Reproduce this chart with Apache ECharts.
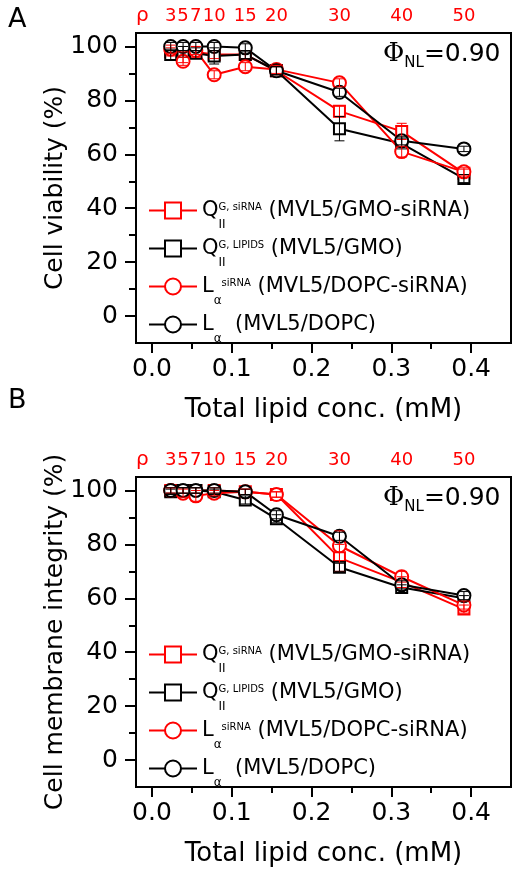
<!DOCTYPE html>
<html><head><meta charset="utf-8">
<script src="https://cdn.jsdelivr.net/npm/echarts@6/dist/echarts.min.js"></script>
<style>html,body{margin:0;padding:0;background:#fff}#c{width:518px;height:877px}</style>
</head><body><div id="c"></div>
<script>
// ---- data ----
const rho = [3, 5, 7, 10, 15, 20, 30, 40, 50];
const conc = [0.0235, 0.039, 0.055, 0.078, 0.117, 0.156, 0.235, 0.313, 0.391];
const xTicks = [0, 0.1, 0.2, 0.3, 0.4];
const xMinorTicks = [0.05, 0.15, 0.25, 0.35];
const yTicks = [0, 20, 40, 60, 80, 100];
const yMinorTicks = [10, 30, 50, 70, 90];

// Panel A: cell viability (%)
const viabGmoSi     = [98, 96, 98, 97, 97, 91, 76, 68.5, 53];
const viabGmoSiErr  = [1.5, 2, 2, 1.5, 1.5, 1.5, 2, 3, 1.5];
const viabGmo       = [97, 98, 97.5, 96.5, 97, 91, 69.5, 64, 51];
const viabGmoErr    = [2, 2, 2, 3, 1.5, 1.5, 4.5, 2, 1.5];
const viabDopcSi    = [99, 94.5, 98.5, 89.5, 92.5, 91.5, 86.5, 61, 53.5];
const viabDopcSiErr = [1.5, 1.5, 1.5, 1.5, 1.5, 1.5, 1.5, 2, 1.5];
const viabDopc      = [100, 100, 100, 100, 99.5, 91, 83, 65, 62];
const viabDopcErr   = [1.5, 1.5, 1.5, 1.5, 1.5, 1.5, 1.5, 1.5, 1];

// Panel B: cell membrane integrity (%)
const memGmoSi     = [100, 100, 100, 100, 99.5, 98.5, 75, 66, 56];
const memGmoSiErr  = [1, 1, 1, 1, 1, 1, 5, 2, 1.5];
const memGmo       = [99.5, 100, 100, 99.5, 96.5, 89.5, 71.5, 64, 60];
const memGmoErr    = [1, 1, 1, 1, 1.5, 1.5, 1.5, 1, 1];
const memDopcSi    = [100, 99, 98, 99, 99.5, 98.5, 79.5, 68, 57.5];
const memDopcSiErr = [1, 1.5, 2, 1, 1, 1, 5.5, 2, 1.5];
const memDopc      = [100, 100, 100, 100, 99.5, 91, 83, 65, 61];
const memDopcErr   = [1, 1, 1, 1, 1, 1.5, 1.5, 1.5, 1.5];

const seriesNames = ['gmoSi', 'gmo', 'dopcSi', 'dopc'];
const legendText = {
  gmoSi: '{big|Q}{subz|II}{sup|G, siRNA} {t|(MVL5/GMO-siRNA)}',
  gmo: '{big|Q}{subz|II}{sup|G, LIPIDS} {t|(MVL5/GMO)}',
  dopcSi: '{big|L}{sub|α}{sup|siRNA} {t|(MVL5/DOPC-siRNA)}',
  dopc: '{big|L}{sub|α}  {t|(MVL5/DOPC)}'
};

// ---- styling ----
const RED = '#ff0000', BLK = '#000000';
const FONT = 'DejaVu Sans';
const styles = {
  gmoSi: { color: RED, symbol: 'emptyRect', size: 11 },
  gmo: { color: BLK, symbol: 'emptyRect', size: 11 },
  dopcSi: { color: RED, symbol: 'emptyCircle', size: 13 },
  dopc: { color: BLK, symbol: 'emptyCircle', size: 13 }
};
const X_MIN = -0.02, X_MAX = 0.45, Y_MIN = -10, Y_MAX = 105;

const richLegend = {
  t: { fontSize: 21, fontFamily: FONT, color: '#000' },
  big: { fontSize: 21, fontFamily: FONT, color: '#000' },
  sub: { fontSize: 12, fontFamily: FONT, color: '#000', padding: [28, 0, 0, 0] },
  subz: { fontSize: 12, fontFamily: FONT, color: '#000', padding: [28, 0, 0, 0], width: 0.01 },
  sup: { fontSize: 10, fontFamily: FONT, color: '#000', padding: [0, 0, 7, 0] }
};

function errRender(color) {
  return function (params, api) {
    const x = api.value(0), y = api.value(1), e = api.value(2);
    const t = api.coord([x, y + e]);
    const b = api.coord([x, y - e]);
    const hw = 5;
    const st = { stroke: color, lineWidth: 1 };
    return {
      type: 'group',
      children: [
        { type: 'line', shape: { x1: t[0], y1: t[1], x2: b[0], y2: b[1] }, style: st },
        { type: 'line', shape: { x1: t[0] - hw, y1: t[1], x2: t[0] + hw, y2: t[1] }, style: st },
        { type: 'line', shape: { x1: b[0] - hw, y1: b[1], x2: b[0] + hw, y2: b[1] }, style: st }
      ]
    };
  };
}

function nearestRho(v) {
  let best = 0, d = 1e9;
  conc.forEach((c, i) => { if (Math.abs(c - v) < d) { d = Math.abs(c - v); best = i; } });
  return String(rho[best]);
}

const panels = [
  { top: 33, yName: 'Cell viability (%)',
    vals: { gmoSi: viabGmoSi, gmo: viabGmo, dopcSi: viabDopcSi, dopc: viabDopc },
    errs: { gmoSi: viabGmoSiErr, gmo: viabGmoErr, dopcSi: viabDopcSiErr, dopc: viabDopcErr } },
  { top: 477, yName: 'Cell membrane integrity (%)',
    vals: { gmoSi: memGmoSi, gmo: memGmo, dopcSi: memDopcSi, dopc: memDopc },
    errs: { gmoSi: memGmoSiErr, gmo: memGmoErr, dopcSi: memDopcSiErr, dopc: memDopcErr } }
];

const noLine = { show: false, onZero: false };
const grid = [], xAxis = [], yAxis = [], series = [], legend = [];
panels.forEach((p, gi) => {
  grid.push({ left: 136, top: p.top, right: 7, height: 310, show: true,
    borderColor: '#000', borderWidth: 2, backgroundColor: 'transparent' });
  // bottom major
  xAxis.push({ type: 'value', gridIndex: gi, position: 'bottom', min: X_MIN, max: X_MAX,
    axisLine: noLine, splitLine: { show: false },
    axisTick: { show: true, customValues: xTicks, length: 10, lineStyle: { color: '#000', width: 2 } },
    axisLabel: { customValues: xTicks, formatter: v => v.toFixed(1), fontSize: 25, fontFamily: FONT, color: '#000', margin: 14 },
    name: 'Total lipid conc. (mM)', nameLocation: 'middle', nameGap: 54, nameMoveOverlap: false,
    nameTextStyle: { fontSize: 26, fontFamily: FONT, color: '#000' } });
  // bottom minor ticks
  xAxis.push({ type: 'value', gridIndex: gi, position: 'bottom', min: X_MIN, max: X_MAX,
    axisLine: noLine, splitLine: { show: false },
    axisTick: { show: true, customValues: xMinorTicks, length: 6, lineStyle: { color: '#000', width: 2 } },
    axisLabel: { show: false } });
  // top rho labels
  xAxis.push({ type: 'value', gridIndex: gi, position: 'top', min: X_MIN, max: X_MAX,
    axisLine: noLine, splitLine: { show: false }, axisTick: { show: false },
    axisLabel: { customValues: conc, formatter: v => nearestRho(v), fontSize: 18, fontFamily: FONT, color: RED, margin: 8 } });
  // y major
  yAxis.push({ type: 'value', gridIndex: gi, position: 'left', min: Y_MIN, max: Y_MAX,
    axisLine: noLine, splitLine: { show: false },
    axisTick: { show: true, customValues: yTicks, length: 11, lineStyle: { color: '#000', width: 2 } },
    axisLabel: { customValues: yTicks, fontSize: 25, fontFamily: FONT, color: '#000', margin: 18 },
    name: p.yName, nameLocation: 'middle', nameGap: 68, nameMoveOverlap: false,
    nameTextStyle: { fontSize: 25, fontFamily: FONT, color: '#000' } });
  // y minor
  yAxis.push({ type: 'value', gridIndex: gi, position: 'left', min: Y_MIN, max: Y_MAX,
    axisLine: noLine, splitLine: { show: false },
    axisTick: { show: true, customValues: yMinorTicks, length: 7, lineStyle: { color: '#000', width: 2 } },
    axisLabel: { show: false } });

  seriesNames.forEach(n => {
    const s = styles[n];
    series.push({ type: 'line', name: n, xAxisIndex: gi * 3, yAxisIndex: gi * 2,
      data: conc.map((c, i) => [c, p.vals[n][i]]),
      symbol: s.symbol, symbolSize: s.size, showSymbol: true,
      lineStyle: { color: s.color, width: 2 },
      itemStyle: { color: s.color, borderColor: s.color, borderWidth: 1.2 },
      z: 3, animation: false });
  });
  seriesNames.forEach(n => {
    const s = styles[n];
    series.push({ type: 'custom', name: n + '_err', xAxisIndex: gi * 3, yAxisIndex: gi * 2,
      data: conc.map((c, i) => [c, p.vals[n][i], p.errs[n][i]]),
      renderItem: errRender(s.color), z: 4, animation: false, silent: true });
  });

  legend.push({ orient: 'vertical', left: 143, top: p.top + 162, itemWidth: 48, itemHeight: 20,
    itemGap: 7.5, data: seriesNames, selectedMode: false,
    formatter: name => legendText[name],
    textStyle: { rich: richLegend, fontSize: 21, fontFamily: FONT, color: '#000' } });
});

const phiRich = {
  phi: { fontSize: 26, fontFamily: 'DejaVu Serif', color: '#000' },
  nl: { fontSize: 15, fontFamily: FONT, color: '#000', padding: [18, 0, 0, 0] },
  eq: { fontSize: 25, fontFamily: FONT, color: '#000' }
};
const graphic = [
  { type: 'text', left: 8, top: 6, style: { text: 'A', fontSize: 27, fontFamily: FONT, fill: '#000' } },
  { type: 'text', left: 8, top: 387, style: { text: 'B', fontSize: 27, fontFamily: FONT, fill: '#000' } },
  { type: 'text', left: 136, top: 6, style: { text: 'ρ', fontSize: 20, fontFamily: FONT, fill: RED } },
  { type: 'text', left: 136, top: 450, style: { text: 'ρ', fontSize: 20, fontFamily: FONT, fill: RED } },
  { type: 'text', left: 383, top: 41, style: { text: '{phi|Φ}{nl|NL}{eq|=0.90}', rich: phiRich } },
  { type: 'text', left: 383, top: 485, style: { text: '{phi|Φ}{nl|NL}{eq|=0.90}', rich: phiRich } }
];

const chart = echarts.init(document.getElementById('c'), null, { renderer: 'canvas' });
chart.setOption({
  animation: false,
  backgroundColor: '#fff',
  textStyle: { fontFamily: FONT, color: '#000' },
  grid, xAxis, yAxis, series, legend, graphic
});
</script></body></html>
